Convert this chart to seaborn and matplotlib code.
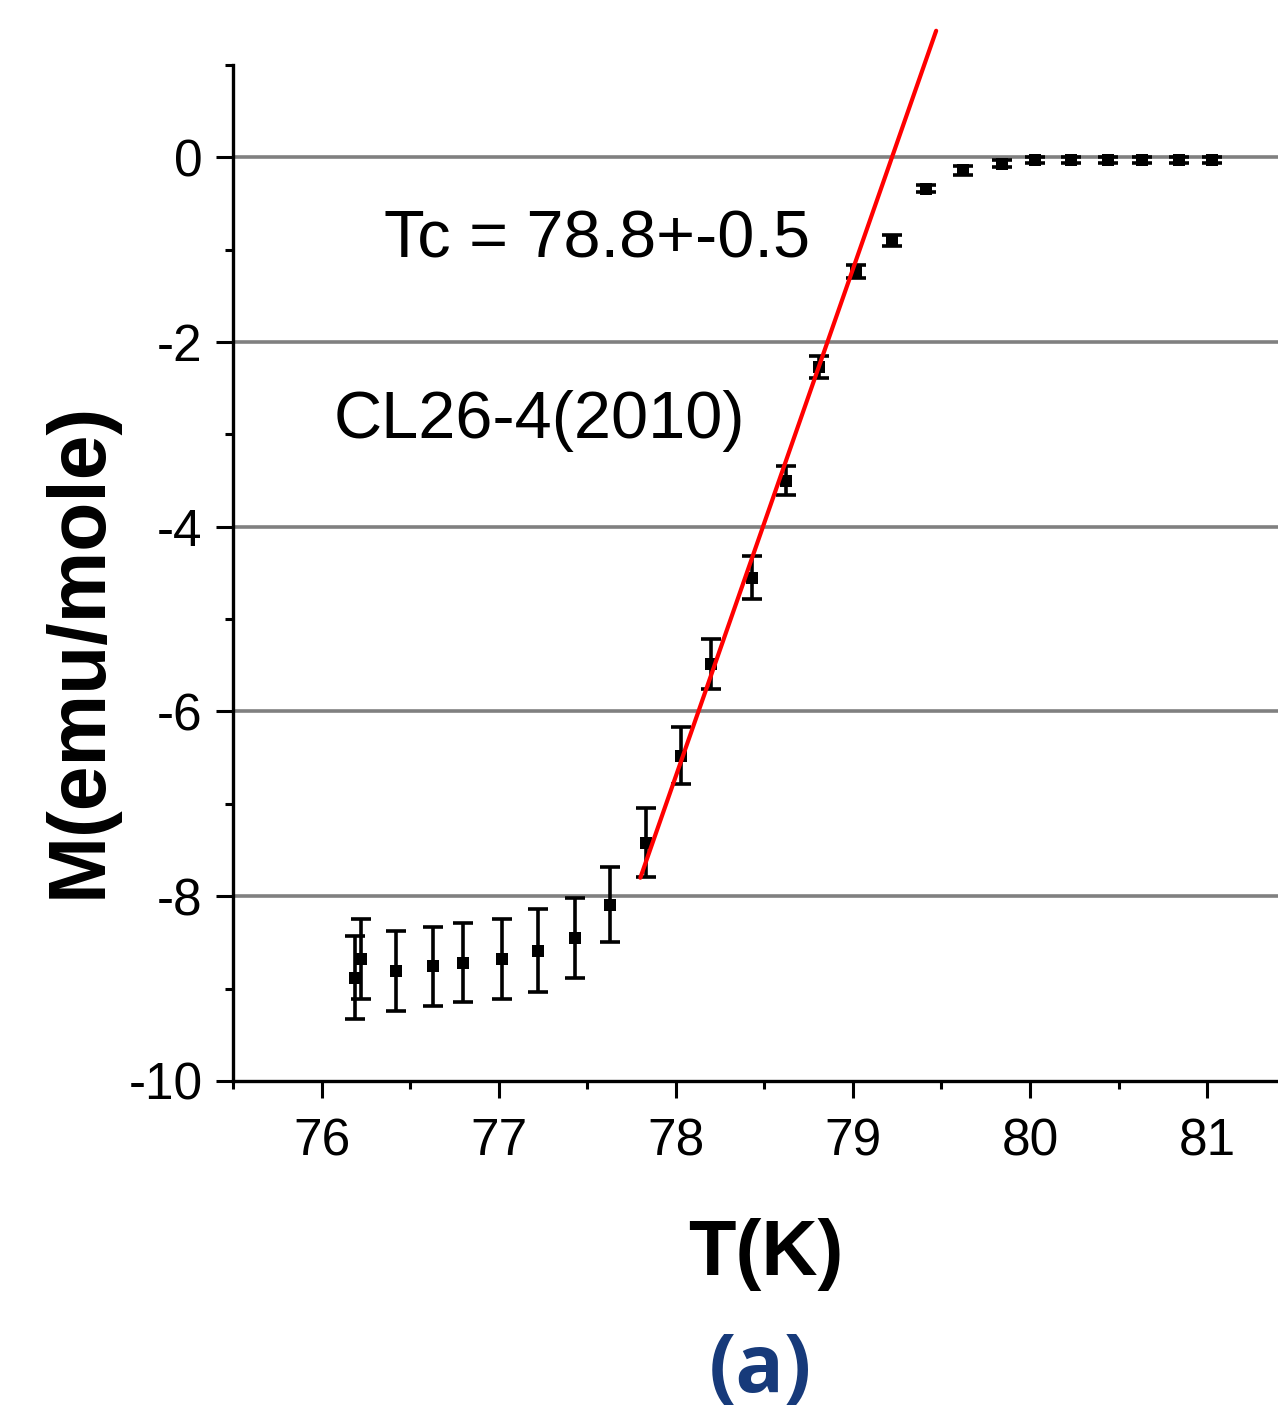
import numpy as np
import pandas as pd
import matplotlib
matplotlib.use("Agg")
import matplotlib.pyplot as plt
import seaborn as sns
from matplotlib.ticker import MultipleLocator

# ---- data ----
T = [76.19, 76.22, 76.42, 76.63, 76.80, 77.02, 77.22, 77.43, 77.63, 77.83,
     78.03, 78.20, 78.43, 78.62, 78.81, 79.02, 79.22, 79.41, 79.62, 79.84,
     80.03, 80.23, 80.44, 80.63, 80.84, 81.03]
M = [-8.88, -8.68, -8.81, -8.76, -8.72, -8.68, -8.59, -8.45, -8.09, -7.42,
     -6.48, -5.49, -4.55, -3.50, -2.27, -1.24, -0.90, -0.34, -0.14, -0.07,
     -0.03, -0.03, -0.03, -0.03, -0.03, -0.03]
M_err = [0.45, 0.43, 0.43, 0.43, 0.43, 0.43, 0.45, 0.43, 0.41, 0.37,
         0.31, 0.27, 0.23, 0.16, 0.12, 0.07, 0.06, 0.04, 0.05, 0.04,
         0.03, 0.03, 0.03, 0.03, 0.03, 0.03]
T_fit = [77.80, 79.47]
M_fit = [-7.80, 1.37]
x_ticks = [76, 77, 78, 79, 80, 81]
y_ticks = [0, -2, -4, -6, -8, -10]
grid_levels = [0, -2, -4, -6, -8]

sns.set_theme(style="white")
plt.rcParams['font.family'] = ['Liberation Sans', 'DejaVu Sans']

fig = plt.figure(figsize=(12.78, 14.21), dpi=100)
ax = fig.add_axes([0.1823, 0.2393, 1.0 - 0.1823, 0.715])

df = pd.DataFrame({"T": T, "M": M, "err": M_err})
dfit = pd.DataFrame({"T": T_fit, "M": M_fit})

for g in grid_levels:
    ax.axhline(g, color="#808080", lw=2.6, zorder=0)

ax.errorbar(df["T"], df["M"], yerr=df["err"], fmt="none", ecolor="black",
            elinewidth=2.6, capsize=7.5, capthick=2.6, zorder=3)
sns.scatterplot(data=df, x="T", y="M", marker="s", s=70, color="black",
                edgecolor="black", linewidth=0, ax=ax, zorder=4)
sns.lineplot(data=dfit, x="T", y="M", color="red", lw=3.0, ax=ax,
             zorder=5, clip_on=False)

ax.set_xlim(75.5, 81.4)
ax.set_ylim(-10, 1)
ax.set_xticks(x_ticks)
ax.set_yticks(y_ticks)
ax.xaxis.set_minor_locator(MultipleLocator(0.5))
ax.yaxis.set_minor_locator(MultipleLocator(1))
ax.set_xticklabels([str(v) for v in x_ticks])
ax.set_yticklabels([str(v) for v in y_ticks])
ax.tick_params(axis="both", which="major", direction="out", length=12, width=2.2,
               color="black", labelsize=37, labelcolor="black")
ax.tick_params(axis="both", which="minor", direction="out", length=5.5, width=2.2,
               color="black")
ax.tick_params(axis="x", which="major", pad=14)
ax.tick_params(axis="y", which="major", pad=10)
ax.tick_params(bottom=True, left=True, which="both")

for s in ["top", "right"]:
    ax.spines[s].set_visible(False)
for s in ["left", "bottom"]:
    ax.spines[s].set_color("black")
    ax.spines[s].set_linewidth(2.4)

ax.set_xlabel("")
ax.set_ylabel("")

ax.text(76.35, -0.90, "Tc = 78.8+-0.5", fontsize=48, ha="left", va="center",
        color="black")
ax.text(76.07, -2.85, "CL26-4(2010)", fontsize=48, ha="left", va="center",
        color="black")

fig.text(0.599, 0.117, "T(K)", fontsize=56, fontweight="bold", ha="center",
         va="center", color="black")
fig.text(0.0626, 0.5426, "M(emu/mole)", fontsize=58, fontweight="bold",
         rotation=90, ha="center", va="center", color="black")
fig.text(0.595, 0.035, "(a)", fontsize=58, fontweight="bold", ha="center",
         va="center", color="#173a7a", family=["Open Sans", "DejaVu Sans"])

fig.savefig("out.png", dpi=100, facecolor="white")
